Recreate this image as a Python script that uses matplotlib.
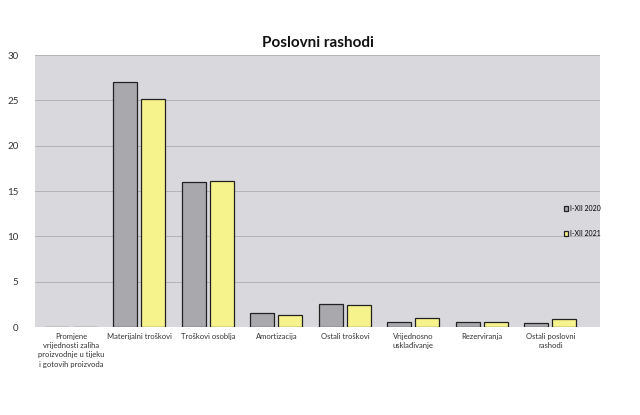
import matplotlib
matplotlib.use("Agg")
from matplotlib import pyplot as plt
import numpy as np

categories = [
    "Promjene\nvrijednosti zaliha\nproizvodnje u tijeku\ni gotovih proizvoda",
    "Materijalni troškovi",
    "Troškovi osoblja",
    "Amortizacija",
    "Ostali troškovi",
    "Vrijednosno\nusklađivanje",
    "Rezerviranja",
    "Ostali poslovni\nrashodi",
]
v2020 = [0.0, 27.0, 16.0, 1.5, 2.5, 0.6, 0.6, 0.4]
v2021 = [0.0, 25.2, 16.1, 1.3, 2.4, 1.0, 0.5, 0.9]
labels = ["I-XII 2020", "I-XII 2021"]
yticks = [0, 5, 10, 15, 20, 25, 30]

plt.rcParams['font.family'] = ['Lato', 'DejaVu Sans']

fig = plt.figure(figsize=(6.4, 4.15), dpi=100)
ax = fig.add_axes([0.055, 0.212, 0.882, 0.655])
ax.set_facecolor('#d9d9dd')

x = np.arange(len(categories))
w = 0.35
ax.bar(x - w/2 - 0.03, v2020, w, color='#a8a8ad', edgecolor='#222222', linewidth=0.9, label=labels[0], zorder=3)
ax.bar(x + w/2 + 0.03, v2021, w, color='#f6f28c', edgecolor='#222222', linewidth=0.9, label=labels[1], zorder=3)

ax.set_ylim(0, 30)
ax.set_xlim(-0.52, 7.72)
ax.set_yticks(yticks)
ax.yaxis.grid(True, color='#b3b3b7', linewidth=0.7, zorder=0)
ax.set_xticks(x)
ax.set_xticklabels(categories, fontsize=5.5, color='#333333', linespacing=1.4, va='top')
ax.tick_params(axis='both', length=0)
ax.tick_params(axis='y', labelsize=7, colors='#333333', pad=12)
ax.tick_params(axis='x', pad=4)
for s in ax.spines.values():
    s.set_visible(False)

ax.set_title("Poslovni rashodi", fontsize=11, fontweight='bold', color='#111111', pad=6)

leg = ax.legend(loc='center left', bbox_to_anchor=(0.925, 0.39), frameon=False, fontsize=5,
                handlelength=0.7, handleheight=0.7, handletextpad=0.2, labelspacing=2.6)

fig.savefig("out.png", dpi=100, facecolor='white')
